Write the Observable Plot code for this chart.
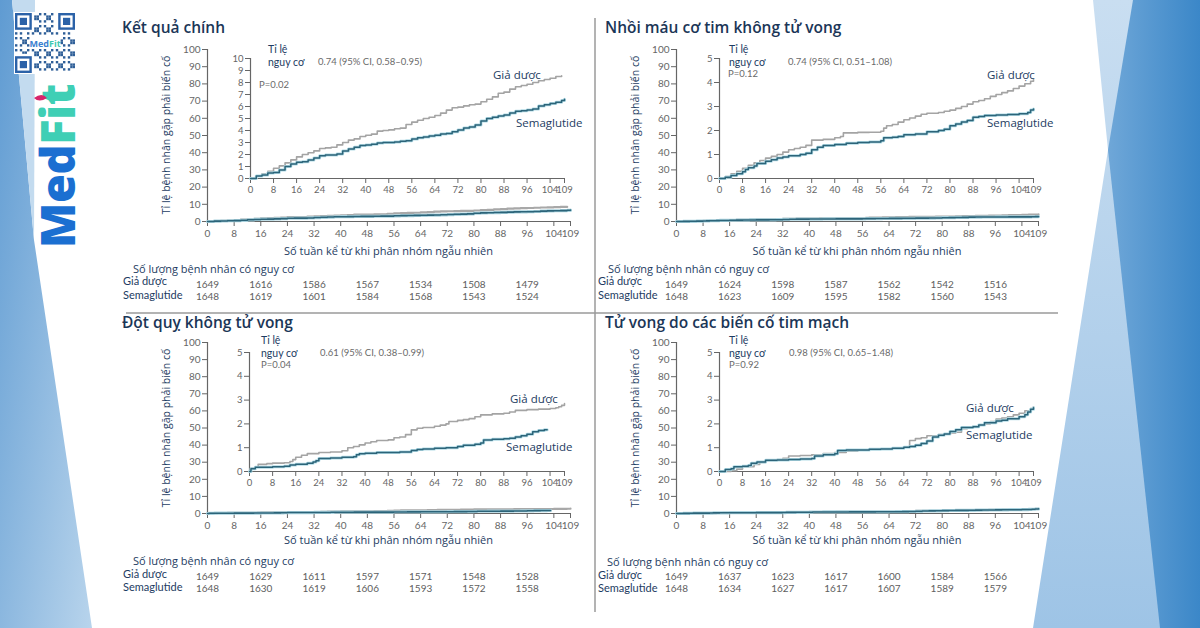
<!DOCTYPE html>
<html><head><meta charset="utf-8">
<script src="https://cdn.jsdelivr.net/npm/d3@7"></script>
<script src="https://cdn.jsdelivr.net/npm/@observablehq/plot@0.6"></script>
<style>
html,body{margin:0;padding:0;background:#fff;}
#root{position:relative;width:1200px;height:628px;overflow:hidden;background:#fff;font-family:"Open Sans",sans-serif;}
.t{position:absolute;white-space:nowrap;}
.pl{position:absolute;}
.pl svg{overflow:visible;background:transparent;}
</style></head><body><div id="root"></div>
<script>
// ---------- DATA ----------
const weekTicks = [0, 8, 16, 24, 32, 40, 48, 56, 64, 72, 80, 88, 96, 104, 109];
const riskWeeks = [0, 16, 32, 48, 64, 80, 96];
const outerYTicks = [0, 10, 20, 30, 40, 50, 60, 70, 80, 90, 100];
const titles = ["Kết quả chính", "Nhồi máu cơ tim không tử vong", "Đột quỵ không tử vong", "Tử vong do các biến cố tim mạch"];
const hazardTexts = ["0.74 (95% CI, 0.58–0.95)", "0.74 (95% CI, 0.51–1.08)", "0.61 (95% CI, 0.38–0.99)", "0.98 (95% CI, 0.65–1.48)"];
const pTexts = ["P=0.02", "P=0.12", "P=0.04", "P=0.92"];
const insetMax = [10, 5, 5, 5];
const groupNames = ["Giả dược", "Semaglutide"];

const p1Placebo = [[0,0],[2,0.2],[4,0.4],[6,0.6],[8,0.85],[10,1.05],[12,1.3],[14,1.55],[16,1.8],[18,2.0],[20,2.15],[22,2.3],[24,2.5],[26,2.55],[28,2.6],[30,2.8],[32,3.0],[34,3.2],[36,3.3],[38,3.5],[40,3.6],[42,3.7],[44,3.95],[46,4.0],[48,4.05],[50,4.15],[52,4.2],[54,4.5],[56,4.7],[58,4.85],[60,5.0],[62,5.1],[64,5.25],[66,5.45],[68,5.7],[70,5.9],[72,5.95],[74,6.05],[76,6.15],[78,6.2],[80,6.4],[82,6.6],[84,6.8],[86,7.1],[88,7.2],[90,7.45],[92,7.65],[94,7.75],[96,7.85],[98,8.0],[100,8.15],[102,8.25],[104,8.35],[106,8.5],[108,8.55]];
const p1Sema = [[0,0],[2,0.2],[4,0.3],[6,0.45],[8,0.5],[10,0.7],[12,1.0],[14,1.2],[16,1.35],[18,1.4],[20,1.55],[22,1.7],[24,1.9],[26,1.95],[28,1.95],[30,2.05],[32,2.3],[34,2.45],[36,2.6],[38,2.75],[40,2.8],[42,2.85],[44,2.95],[46,3.0],[48,3.0],[50,3.05],[52,3.1],[54,3.15],[56,3.3],[58,3.4],[60,3.45],[62,3.55],[64,3.6],[66,3.7],[68,3.75],[70,3.9],[72,4.05],[74,4.2],[76,4.3],[78,4.45],[80,4.8],[82,5.0],[84,5.1],[86,5.2],[88,5.3],[90,5.45],[92,5.6],[94,5.65],[96,5.7],[98,5.8],[100,6.05],[102,6.15],[104,6.25],[106,6.35],[108,6.5],[109,6.6]];
const p2Placebo = [[0,0],[2,0.08],[4,0.2],[6,0.3],[8,0.42],[10,0.55],[12,0.65],[14,0.75],[16,0.85],[18,0.92],[20,1.0],[22,1.1],[24,1.2],[26,1.25],[28,1.3],[30,1.38],[32,1.6],[36,1.63],[40,1.7],[42,1.75],[43,1.9],[48,1.92],[52,1.93],[56,1.97],[57,2.1],[58,2.2],[60,2.25],[62,2.35],[64,2.45],[66,2.52],[68,2.6],[70,2.68],[72,2.72],[76,2.75],[78,2.8],[80,2.85],[82,2.92],[84,3.0],[86,3.1],[88,3.2],[90,3.25],[92,3.32],[94,3.42],[96,3.5],[98,3.58],[100,3.65],[102,3.75],[104,3.85],[106,3.95],[108,4.05],[109,4.12]];
const p2Sema = [[0,0],[2,0.05],[4,0.12],[6,0.2],[8,0.28],[9,0.38],[10,0.45],[12,0.52],[13,0.62],[16,0.72],[18,0.78],[20,0.85],[22,0.9],[24,0.95],[28,1.0],[30,1.05],[32,1.2],[34,1.3],[36,1.37],[40,1.42],[44,1.47],[48,1.5],[52,1.52],[56,1.57],[57,1.7],[60,1.72],[62,1.75],[64,1.82],[68,1.85],[72,1.95],[76,2.0],[78,2.05],[80,2.2],[82,2.27],[84,2.35],[86,2.42],[88,2.55],[90,2.58],[92,2.62],[96,2.65],[100,2.67],[104,2.7],[107,2.75],[108,2.85],[109,2.9]];
const p3Placebo = [[0,0],[0.5,0.15],[2,0.2],[3,0.3],[6,0.33],[8,0.35],[12,0.37],[14,0.42],[15,0.5],[16,0.6],[18,0.68],[20,0.75],[24,0.8],[28,0.82],[32,0.87],[34,1.0],[36,1.05],[38,1.12],[40,1.2],[42,1.25],[44,1.3],[48,1.33],[50,1.42],[52,1.45],[54,1.55],[56,1.75],[58,1.82],[60,1.85],[64,1.9],[66,1.95],[68,2.0],[69,2.1],[72,2.15],[74,2.18],[76,2.22],[78,2.3],[80,2.38],[84,2.42],[88,2.45],[90,2.5],[92,2.57],[96,2.6],[100,2.62],[104,2.65],[106,2.68],[107,2.72],[108,2.78],[109,2.85]];
const p3Sema = [[0,0],[0.5,0.12],[2,0.18],[8,0.2],[12,0.22],[14,0.27],[16,0.3],[20,0.35],[22,0.4],[23,0.45],[24,0.55],[28,0.57],[32,0.6],[36,0.62],[37,0.7],[38,0.75],[40,0.77],[44,0.8],[48,0.8],[52,0.82],[56,0.88],[58,0.92],[60,0.95],[64,0.98],[68,1.0],[72,1.05],[74,1.1],[78,1.15],[80,1.2],[81,1.32],[84,1.35],[88,1.38],[90,1.4],[92,1.45],[94,1.5],[96,1.57],[98,1.67],[100,1.72],[102,1.75],[103,1.75]];
const p4Placebo = [[0,0],[4,0.03],[6,0.1],[8,0.18],[10,0.2],[12,0.3],[14,0.38],[16,0.45],[20,0.5],[22,0.55],[24,0.65],[28,0.67],[32,0.7],[36,0.75],[40,0.8],[44,0.85],[48,0.9],[52,0.93],[56,0.95],[60,0.98],[64,1.02],[66,1.3],[68,1.38],[70,1.42],[72,1.5],[76,1.55],[78,1.58],[80,1.62],[82,1.65],[84,1.8],[86,1.88],[88,1.9],[90,1.95],[92,2.0],[94,2.1],[96,2.2],[98,2.25],[100,2.3],[102,2.38],[104,2.45],[106,2.55],[108,2.65],[109,2.72]];
const p4Sema = [[0,0],[2,0.08],[4,0.12],[5,0.2],[8,0.22],[10,0.25],[11,0.35],[13,0.4],[16,0.47],[20,0.48],[24,0.5],[28,0.52],[32,0.55],[33,0.65],[36,0.7],[40,0.75],[41,0.88],[44,0.9],[48,0.9],[52,0.93],[56,0.95],[60,0.98],[64,1.02],[66,1.05],[68,1.1],[70,1.18],[72,1.28],[74,1.45],[76,1.52],[78,1.58],[80,1.68],[82,1.75],[84,1.85],[88,1.88],[90,1.95],[92,2.05],[96,2.12],[98,2.15],[100,2.22],[104,2.3],[106,2.38],[107,2.5],[108,2.62],[109,2.68]];

const p1RiskPlacebo = [1649, 1616, 1586, 1567, 1534, 1508, 1479];
const p1RiskSema    = [1648, 1619, 1601, 1584, 1568, 1543, 1524];
const p2RiskPlacebo = [1649, 1624, 1598, 1587, 1562, 1542, 1516];
const p2RiskSema    = [1648, 1623, 1609, 1595, 1582, 1560, 1543];
const p3RiskPlacebo = [1649, 1629, 1611, 1597, 1571, 1548, 1528];
const p3RiskSema    = [1648, 1630, 1619, 1606, 1593, 1572, 1558];
const p4RiskPlacebo = [1649, 1637, 1623, 1617, 1600, 1584, 1566];
const p4RiskSema    = [1648, 1634, 1627, 1617, 1607, 1589, 1579];

// ---------- LAYOUT ----------
const root = document.getElementById("root");
const NAVY = "#1d3c62";
const GRAYTXT = "#6a6a6a";

const bg = `
<svg width="1200" height="628" style="position:absolute;left:0;top:0">
<defs>
<linearGradient id="gl" x1="0" y1="0" x2="1" y2="1"><stop offset="0" stop-color="#5f9bd2"/><stop offset="1" stop-color="#b8d4ec"/></linearGradient>
<linearGradient id="gr1" x1="0" y1="0" x2="0" y2="1"><stop offset="0" stop-color="#c9def1"/><stop offset="1" stop-color="#9ec4e6"/></linearGradient>
<linearGradient id="gr2" x1="0" y1="0" x2="1" y2="0"><stop offset="0" stop-color="#6fa7d8"/><stop offset="1" stop-color="#3b87c8"/></linearGradient>
</defs>
<polygon points="0,0 12,0 34,240 92,628 0,628" fill="url(#gl)"/>
<polygon points="12,0 35,0 34,240" fill="#c3dbef"/>
<polygon points="1093,0 1200,0 1200,628 1033,628 1108,150" fill="url(#gr1)"/>
<polygon points="1133,0 1200,0 1200,628 1160,628 1108,150" fill="url(#gr2)"/>
<line x1="595" y1="18" x2="595" y2="612" stroke="#9a9a9a" stroke-width="1.5"/>
<line x1="126" y1="313" x2="1058" y2="313" stroke="#9a9a9a" stroke-width="1.5"/>
</svg>`;
root.insertAdjacentHTML("beforeend", bg);

// logo: QR-like mark + MedFit
(function(){
  const n = 25, s = 60 / n;
  let cells = "";
  const finder = (ci, cj) => {
    cells += `<rect x="${cj*s+0.5*s}" y="${ci*s+0.5*s}" width="${6*s}" height="${6*s}" fill="none" stroke="#2b62a8" stroke-width="${s}"/>`;
    cells += `<rect x="${(cj+2)*s}" y="${(ci+2)*s}" width="${3*s}" height="${3*s}" fill="#2b62a8"/>`;
  };
  for (let i = 0; i < n; i++) for (let j = 0; j < n; j++) {
    const inF = (i < 8 && j < 8) || (i < 8 && j > 16) || (i > 16 && j < 8);
    const inC = i >= 10 && i <= 14 && j >= 7 && j <= 18;
    if (inF || inC) continue;
    if (((i * 7 + j * 13 + i * j * 3) % 5) < 2) cells += `<rect x="${j*s}" y="${i*s}" width="${s}" height="${s}" fill="#2f5f98"/>`;
  }
  finder(0,0); finder(0,18); finder(18,0);
  const svg = `<svg width="62" height="62" style="position:absolute;left:14px;top:12px">
    <rect width="62" height="62" fill="#fff"/>
    <g transform="translate(1,1)">${cells}
    <text x="30" y="33.5" text-anchor="middle" font-family="Open Sans" font-weight="700" font-size="9" fill="#3a7fd0">Med<tspan fill="#3ec9b0">Fit</tspan></text></g></svg>`;
  root.insertAdjacentHTML("beforeend", svg);
  const wm = document.createElement("div");
  wm.style.cssText = "position:absolute;left:57px;top:166px;transform:translate(-50%,-50%) rotate(-90deg);white-space:nowrap;font-family:'Open Sans';font-weight:800;font-size:47px;line-height:40px;height:40px;letter-spacing:-0.5px;";
  wm.innerHTML = `<span style="color:#1b6fd1">Med</span><span style="color:#3fcfb5">Fit</span>`;
  root.appendChild(wm);
  root.insertAdjacentHTML("beforeend", `<svg width="20" height="12" style="position:absolute;left:33px;top:91px"><path d="M1,7 q8,-6 13,0 q-8,5 -13,0z" fill="#d8246b"/></svg>`);
})();

function addText(x, yc, str, o = {}) {
  const d = document.createElement("div");
  const fs = o.size || 11;
  const h = Math.round(fs * 1.1);
  d.className = "t";
  d.textContent = str;
  d.style.left = x + "px";
  d.style.top = (yc - h / 2) + "px";
  d.style.height = h + "px";
  d.style.lineHeight = h + "px";
  d.style.fontSize = fs + "px";
  d.style.color = o.color || NAVY;
  d.style.fontWeight = o.weight || 500;
  d.style.fontFamily = o.family || "'Open Sans', sans-serif";
  if (o.anchor === "middle") d.style.transform = "translateX(-50%)";
  if (o.rotate) d.style.transform = "translate(-50%,0) rotate(-90deg)";
  root.appendChild(d);
  return d;
}

const panels = [
  {title: titles[0], placebo: p1Placebo, sema: p1Sema, rP: p1RiskPlacebo, rS: p1RiskSema, hz: hazardTexts[0], p: pTexts[0], imax: insetMax[0],
   ox0: 207, ox1: 570, oyT: 49, oy0: 221, ix0: 250, ix1: 564, iyT: 58, iy0: 178,
   titleX: 122, titleY: 27, ytX: 166, labX: 268, labY: 49, hzX: 318, pX: 259, pY: 85,
   gdX: 493, gdY: 74, smX: 516, smY: 122, rtX: 133, rlX: 123, rhY: 269, r1Y: 281, r2Y: 295, axY: 251},
  {title: titles[1], placebo: p2Placebo, sema: p2Sema, rP: p2RiskPlacebo, rS: p2RiskSema, hz: hazardTexts[1], p: pTexts[1], imax: insetMax[1],
   ox0: 676, ox1: 1038, oyT: 49, oy0: 221, ix0: 719, ix1: 1033, iyT: 58, iy0: 178,
   titleX: 605, titleY: 27, ytX: 635, labX: 729, labY: 49, hzX: 788, pX: 728, pY: 74,
   gdX: 987, gdY: 74, smX: 987, smY: 122, rtX: 608, rlX: 598, rhY: 269, r1Y: 281, r2Y: 295, axY: 251},
  {title: titles[2], placebo: p3Placebo, sema: p3Sema, rP: p3RiskPlacebo, rS: p3RiskSema, hz: hazardTexts[2], p: pTexts[2], imax: insetMax[2],
   ox0: 207, ox1: 570, oyT: 342, oy0: 513, ix0: 249, ix1: 564, iyT: 352, iy0: 471,
   titleX: 122, titleY: 322, ytX: 166, labX: 261, labY: 340, hzX: 320, pX: 261, pY: 365,
   gdX: 510, gdY: 398, smX: 506, smY: 446, rtX: 133, rlX: 123, rhY: 560.5, r1Y: 573.5, r2Y: 586.5, axY: 540},
  {title: titles[3], placebo: p4Placebo, sema: p4Sema, rP: p4RiskPlacebo, rS: p4RiskSema, hz: hazardTexts[3], p: pTexts[3], imax: insetMax[3],
   ox0: 676, ox1: 1038, oyT: 342, oy0: 513, ix0: 719, ix1: 1033, iyT: 352, iy0: 471,
   titleX: 605, titleY: 322, ytX: 635, labX: 729, labY: 340, hzX: 789, pX: 729, pY: 365,
   gdX: 966, gdY: 407, smX: 966, smY: 434, rtX: 607, rlX: 598, rhY: 561.5, r1Y: 574.5, r2Y: 587.5, axY: 540}
];

const px = d => d[0], py = d => d[1];
const fmtInt = d3.format("d");
const LATO = "Lato, 'Open Sans', sans-serif";

function place(svg, left, top) {
  const w = document.createElement("div");
  w.className = "pl";
  w.style.left = left + "px";
  w.style.top = top + "px";
  w.appendChild(svg);
  root.appendChild(w);
}

panels.forEach(P => {
  const mL = 40, mR = 25, mT = 10, mB = 30;
  const outer = Plot.plot({
    width: (P.ox1 - P.ox0) + mL + mR,
    height: (P.oy0 - P.oyT) + mT + mB,
    marginLeft: mL, marginRight: mR, marginTop: mT, marginBottom: mB,
    x: {domain: [0, 109], ticks: weekTicks, tickSize: 5, tickPadding: 3, label: null, tickFormat: fmtInt},
    y: {domain: [0, 100], ticks: outerYTicks, tickSize: 5, tickPadding: 2, label: null, tickFormat: fmtInt},
    style: {fontSize: "10px", color: "#666", fontFamily: LATO, background: "transparent", overflow: "visible"},
    marks: [
      Plot.ruleX([0], {stroke: "#666", strokeWidth: 1.2}),
      Plot.ruleY([0], {stroke: "#666", strokeWidth: 1.2}),
      Plot.line(P.placebo, {x: px, y: py, curve: "step-after", stroke: "#a8a8a8", strokeWidth: 2.2}),
      Plot.line(P.sema, {x: px, y: py, curve: "step-after", stroke: "#a9d2de", strokeWidth: 3.2}),
      Plot.line(P.sema, {x: px, y: py, curve: "step-after", stroke: "#2c6479", strokeWidth: 1.6}),
      Plot.text(P.rP, {x: (d, i) => riskWeeks[i], y: () => 0, text: d => String(d), dy: 63, fill: "#5e5e5e", fontSize: 10}),
      Plot.text(P.rS, {x: (d, i) => riskWeeks[i], y: () => 0, text: d => String(d), dy: 75, fill: "#5e5e5e", fontSize: 10})
    ]
  });
  place(outer, P.ox0 - mL, P.oyT - mT);

  const iL = 30, iR = 20, iT = 8, iB = 25;
  const yt = d3.range(0, P.imax + 1, 1);
  const inset = Plot.plot({
    width: (P.ix1 - P.ix0) + iL + iR,
    height: (P.iy0 - P.iyT) + iT + iB,
    marginLeft: iL, marginRight: iR, marginTop: iT, marginBottom: iB,
    x: {domain: [0, 109], ticks: weekTicks, tickSize: 5, tickPadding: 3, label: null, tickFormat: fmtInt},
    y: {domain: [0, P.imax], ticks: yt, tickSize: 5, tickPadding: 2, label: null, tickFormat: fmtInt},
    style: {fontSize: "9.5px", color: "#666", fontFamily: LATO, background: "transparent", overflow: "visible"},
    marks: [
      Plot.ruleX([0], {stroke: "#666", strokeWidth: 1.2}),
      Plot.ruleY([0], {stroke: "#666", strokeWidth: 1.2}),
      Plot.line(P.placebo, {x: px, y: py, curve: "step-after", stroke: "#a4a4a4", strokeWidth: 1.6}),
      Plot.line(P.sema, {x: px, y: py, curve: "step-after", stroke: "#b2dbe6", strokeWidth: 3}),
      Plot.line(P.sema, {x: px, y: py, curve: "step-after", stroke: "#2c6479", strokeWidth: 1.5})
    ]
  });
  place(inset, P.ix0 - iL, P.iyT - iT);

  addText(P.titleX, P.titleY, P.title, {size: 15.5, weight: 600, color: "#1b3657"});
  addText(P.ytX, (P.oyT + P.oy0) / 2, "Tỉ lệ bệnh nhân gặp phải biến cố", {size: 10.5, rotate: true});
  addText((P.ox0 + P.ox1) / 2, P.axY, "Số tuần kể từ khi phân nhóm ngẫu nhiên", {size: 11, anchor: "middle"});
  addText(P.labX, P.labY, "Tỉ lệ", {size: 10.5, family: LATO, weight: 400});
  addText(P.labX, P.labY + 12.5, "nguy cơ", {size: 10.5, family: LATO, weight: 400});
  addText(P.hzX, P.labY + 12.5, P.hz, {size: 9.5, color: GRAYTXT, family: LATO, weight: 400});
  addText(P.pX, P.pY, P.p, {size: 9.5, color: GRAYTXT, family: LATO, weight: 400});
  addText(P.gdX, P.gdY, groupNames[0], {size: 11.5});
  addText(P.smX, P.smY, groupNames[1], {size: 11.5});
  addText(P.rtX, P.rhY, "Số lượng bệnh nhân có nguy cơ", {size: 11});
  addText(P.rlX, P.r1Y, groupNames[0], {size: 11, family: LATO, weight: 400});
  addText(P.rlX, P.r2Y, groupNames[1], {size: 11, family: LATO, weight: 400});
});
</script></body></html>
